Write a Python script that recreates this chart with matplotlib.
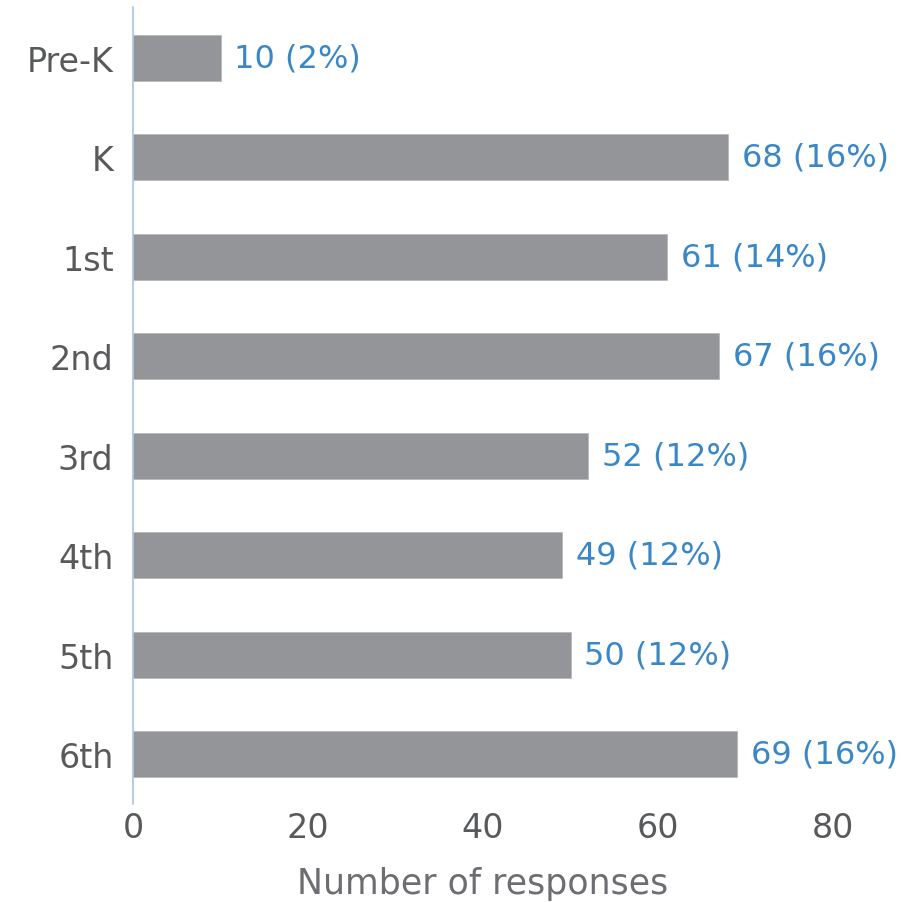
import matplotlib
matplotlib.use("Agg")
import matplotlib.pyplot as plt

grades = ["Pre-K", "K", "1st", "2nd", "3rd", "4th", "5th", "6th"]
counts = [10, 68, 61, 67, 52, 49, 50, 69]
pcts = [2, 16, 14, 16, 12, 12, 12, 16]
xticks = [0, 20, 40, 60, 80]

plt.rcParams['font.family'] = ['DejaVu Sans']

fig = plt.figure(figsize=(9.06, 9.03), dpi=100)
ax = fig.add_axes([133/906, 98/903, 770/906, 797/903])

ypos = list(range(len(grades)))
ax.barh(ypos, counts, height=0.46, color="#939598", edgecolor="#b8b9bb", linewidth=0.6)
for y, c, p in zip(ypos, counts, pcts):
    ax.annotate(f"{c} ({p}%)", (c, y), xytext=(10, 0), textcoords="offset points",
                va="center", ha="left", color="#3a87c8", fontsize=23)

ax.set_xlim(0, 88)
ax.set_ylim(7.5, -0.51)
ax.set_yticks(ypos)
ax.set_yticklabels(grades)
ax.set_xticks(xticks)
ax.tick_params(axis="both", length=0, labelsize=24, labelcolor="#58595b")
ax.tick_params(axis="y", pad=14)
ax.tick_params(axis="x", pad=5)
for s in ["top", "right", "bottom"]:
    ax.spines[s].set_visible(False)
ax.spines["left"].set_color("#a9c4e0")
ax.spines["left"].set_linewidth(1.2)
ax.set_xlabel("Number of responses", fontsize=25, color="#6d6e71")
ax.xaxis.set_label_coords((483-133)/770, -0.078)

fig.savefig("out.png", dpi=100)
